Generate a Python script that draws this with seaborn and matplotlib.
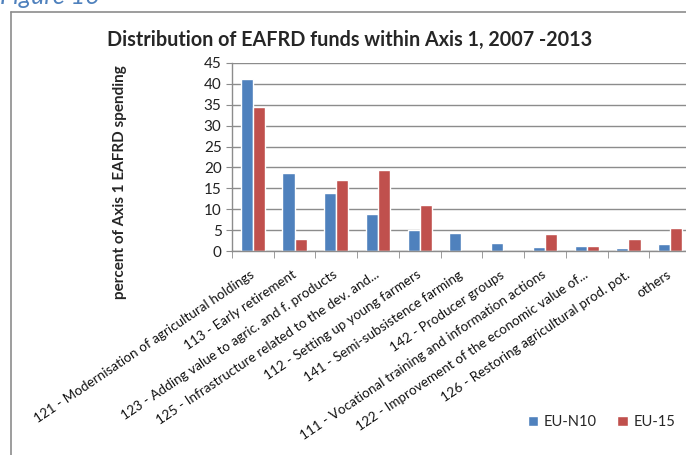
import pandas as pd
import numpy as np
import seaborn as sns
import matplotlib.pyplot as plt
from matplotlib.lines import Line2D
from matplotlib.ticker import MultipleLocator, FixedLocator

# Datos
medidas = [
    "121 - Modernisation of agricultural holdings",
    "113 - Early retirement",
    "123 - Adding value to agric. and f. products",
    "125 - Infrastructure related to the dev. and...",
    "112 - Setting up young farmers",
    "141 - Semi-subsistence farming",
    "142 - Producer groups",
    "111 - Vocational training and information actions",
    "122 - Improvement of the economic value of...",
    "126 - Restoring agricultural prod. pot.",
    "others",
]
eu_n10 = [41.0, 18.6, 13.9, 8.8, 5.2, 4.3, 2.0, 1.1, 1.2, 0.7, 1.75]
eu_15 = [34.4, 2.9, 17.0, 19.3, 11.0, np.nan, np.nan, 4.1, 1.35, 2.9, 5.55]
grupos = ["EU-N10", "EU-15"]
colores = ["#4F81BD", "#C0504D"]

df = pd.DataFrame({
    "Medida": medidas * 2,
    "Valor": eu_n10 + eu_15,
    "Grupo": [grupos[0]] * len(medidas) + [grupos[1]] * len(medidas),
})

sns.set_style("white")
plt.rcParams["font.family"] = ["Lato", "DejaVu Sans"]

fig = plt.figure(figsize=(6.86, 4.55), dpi=100)
ax = fig.add_axes([232 / 686, (455 - 251.3) / 455, 459 / 686, 188.6 / 455])

sns.barplot(data=df, x="Medida", y="Valor", hue="Grupo", palette=colores,
            width=0.58, ax=ax, saturation=1, legend=True)

ax.set_ylim(0, 45)
ax.set_xlim(-0.5, len(medidas) - 0.5)
ax.yaxis.set_major_locator(MultipleLocator(5))
ax.grid(axis="y", color="#8c8c8c", linewidth=1)
ax.set_axisbelow(True)
for lado in ["top", "right"]:
    ax.spines[lado].set_visible(False)
for lado in ["left", "bottom"]:
    ax.spines[lado].set_color("#8c8c8c")
    ax.spines[lado].set_linewidth(1)

ax.tick_params(axis="y", left=True, length=4, color="#8c8c8c", labelsize=11, labelcolor="#222222")
ax.set_xticks(range(len(medidas)))
ax.set_xticklabels(medidas, rotation=34, ha="right", va="center",
                   rotation_mode="anchor", fontsize=9.7)
ax.tick_params(axis="x", which="major", length=0, pad=16, labelcolor="#111111")
ax.xaxis.set_minor_locator(FixedLocator(np.arange(-0.5, len(medidas), 1)))
ax.tick_params(axis="x", which="minor", bottom=True, length=5, color="#8c8c8c")
ax.set_xlabel("")
ax.set_ylabel("")

# Leyenda abajo a la derecha
handles, labels = ax.get_legend_handles_labels()
ax.legend_.remove()
fig.legend(handles, labels, loc="center", bbox_to_anchor=(0.877, 0.072), ncol=2,
           frameon=False, fontsize=10.5, handlelength=0.7, handleheight=0.7,
           columnspacing=1.4, handletextpad=0.4)

fig.text(0.51, (455 - 40) / 455, "Distribution of EAFRD funds within Axis 1, 2007 -2013",
         ha="center", va="center", fontsize=14.2, fontweight="bold")
fig.text(120 / 686, (455 - 182) / 455, "percent of Axis 1 EAFRD spending",
         rotation=90, ha="center", va="center", fontsize=11, fontweight="bold")
fig.text(0, (455 - 4) / 455, "Figure 16", fontsize=18, style="italic",
         color="#4F81BD", ha="left", va="baseline")

# Marco del grafico
fig.add_artist(Line2D([11 / 686, 11 / 686], [0, (455 - 12) / 455], transform=fig.transFigure,
                      color="#8c8c8c", linewidth=1.2))
fig.add_artist(Line2D([11 / 686, 1], [(455 - 12) / 455] * 2, transform=fig.transFigure,
                      color="#8c8c8c", linewidth=1.2))

fig.savefig("out.png", dpi=100)
